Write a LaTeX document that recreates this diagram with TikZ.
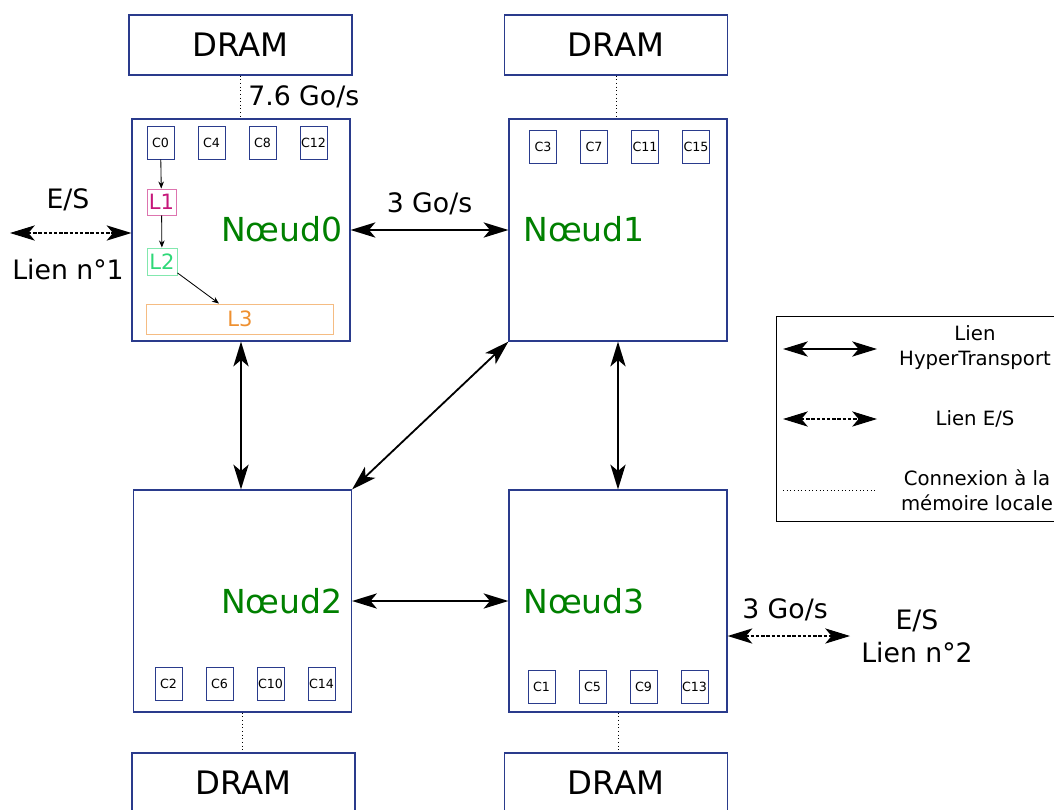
\documentclass[tikz,border=0pt]{standalone}
\usepackage{fontspec}
\setmainfont{DejaVu Sans}
\usepackage{xcolor}
\usepackage{tikz}
\usetikzlibrary{arrows.meta,positioning}
\definecolor{bleu}{RGB}{42,59,140}
\definecolor{vert}{RGB}{0,128,0}
\definecolor{rose}{RGB}{198,23,122}
\definecolor{vertclair}{RGB}{46,216,120}
\definecolor{orange}{RGB}{238,144,48}
\tikzset{
  dram/.style={draw=bleu, line width=0.8pt, minimum width=5.575cm, minimum height=1.5cm, inner sep=0pt, font=\fontsize{23}{26}\selectfont},
  noeud/.style={draw=bleu, line width=0.8pt, minimum width=5.45cm, minimum height=5.55cm},
  titre/.style={text=vert, inner sep=0pt, font=\fontsize{23.5}{26}\selectfont},
  coeur/.style={draw=bleu, line width=0.7pt, minimum width=0.675cm, minimum height=0.825cm, inner sep=0pt, font=\fontsize{9}{10}\selectfont},
  cache/.style={draw=#1!60, line width=0.7pt, text=#1, inner sep=0pt, font=\fontsize{15}{17}\selectfont},
  lbl/.style={inner sep=0pt, align=center, font=\fontsize{19}{23.5}\selectfont},
  leg/.style={inner sep=0pt, align=center, font=\fontsize{14}{17.8}\selectfont},
  ht/.style={{Stealth[length=0.62cm,width=0.38cm,inset=0.16cm]}-{Stealth[length=0.62cm,width=0.38cm,inset=0.16cm]}, line width=1.3pt},
  es/.style={ht, line width=0.8pt, dash pattern=on 2.5pt off 1.2pt},
  mem/.style={dotted, line width=0.6pt},
  fleche/.style={-{Stealth[length=5pt,width=4pt]}, line width=0.6pt}
}
\begin{document}
\begin{tikzpicture}[x=0.025cm, y=-0.025cm]
	\useasboundingbox (0,0) rectangle (1054,810);
	\clip (0,0) rectangle (1054,810);

	% noeuds NUMA
	\node[noeud] (n0) at (241,230) {};
	\node[noeud] (n1) at (618,230) {};
	\node[noeud] (n2) at (242.5,601) {};
	\node[noeud] (n3) at (618,601) {};
	\node[titre, anchor=east] (t0) at (343,229) {Nœud0};
	\node[titre, anchor=west] (t1) at (523,229) {Nœud1};
	\node[titre, anchor=east] (t2) at (343,601) {Nœud2};
	\node[titre, anchor=west] (t3) at (523,601) {Nœud3};

	% coeurs
	\foreach \c [count=\i from 0] in {0,4,8,12}
		\node[coeur] (c\c) at (160.5+51*\i,142.5) {C\c};
	\foreach \c [count=\i from 0] in {3,7,11,15}
		\node[coeur] (c\c) at (543+51*\i,147) {C\c};
	\foreach \c [count=\i from 0] in {2,6,10,14}
		\node[coeur] (c\c) at (168.5+51*\i,684) {C\c};
	\foreach \c [count=\i from 0] in {1,5,9,13}
		\node[coeur] (c\c) at (541.5+51*\i,687) {C\c};

	% caches
	\node[cache=rose, minimum width=0.725cm, minimum height=0.65cm] (l1) at (161.5,202) {L1};
	\node[cache=vertclair, minimum width=0.75cm, minimum height=0.675cm] (l2) at (162,261.5) {L2};
	\node[cache=orange, minimum width=4.65cm, minimum height=0.75cm] (l3) at (240,319) {L3};
	\draw[fleche] (c0) -- (l1);
	\draw[fleche] (l1) -- (l2);
	\draw[fleche] (l2) -- (l3);

	% memoires
	\node[dram] (d0) at (240.5,45) {DRAM};
	\node[dram] (d1) at (616,45) {DRAM};
	\node[dram] (d2) at (243.5,783) {DRAM};
	\node[dram] (d3) at (616,783) {DRAM};
	\draw[mem] (d0.south) -- (d0.south |- n0.north);
	\draw[mem] (d1.south) -- (d1.south |- n1.north);
	\draw[mem] (n2.south) -- (n2.south |- d2.north);
	\draw[mem] (n3.south) -- (n3.south |- d3.north);
	\node[lbl, anchor=west] (bw0) at (248,97) {7.6 Go/s};

	% liens HyperTransport
	\draw[ht] (n0.east) -- (n1.west) node[lbl, midway, above=0.35cm] (bw01) {3 Go/s};
	\draw[ht] (n0.south) -- (n0.south |- n2.north);
	\draw[ht] (n1.south west) -- (n2.north east);
	\draw[ht] (n1.south) -- (n1.south |- n3.north);
	\draw[ht] (n2.east) -- (n3.west);

	% liens E/S
	\coordinate (es1) at (10,233);
	\draw[es] (es1) -- (n0.west |- es1);
	\node[lbl] (es1h) at (68,200) {E/S};
	\node[lbl] (es1b) at (68,270) {Lien n°1};
	\coordinate (es2) at (850,636);
	\draw[es] (n3.east |- es2) -- (es2);
	\node[lbl] (bw3) at (785,610) {3 Go/s};
	\node[lbl] (es2t) at (917,636) {E/S\\Lien n°2};

	% legende
	\node[draw, line width=0.9pt, anchor=north west, minimum width=7.5cm, minimum height=5.125cm] (legende) at (776,316) {};
	\coordinate (a1) at (783,349);
	\coordinate (b1) at (877,349);
	\coordinate (a2) at (783,419);
	\coordinate (b2) at (877,419);
	\coordinate (a3) at (783,490);
	\coordinate (b3) at (877,490);
	\draw[ht] (a1) -- (b1);
	\draw[es] (a2) -- (b2);
	\draw[mem] (a3) -- (b3);
	\node[leg] (leg1) at (975,348) {Lien\\HyperTransport};
	\node[leg] (leg2) at (975,419) {Lien E/S};
	\node[leg] (leg3) at (977,490) {Connexion à la\\mémoire locale};
\end{tikzpicture}
\end{document}
